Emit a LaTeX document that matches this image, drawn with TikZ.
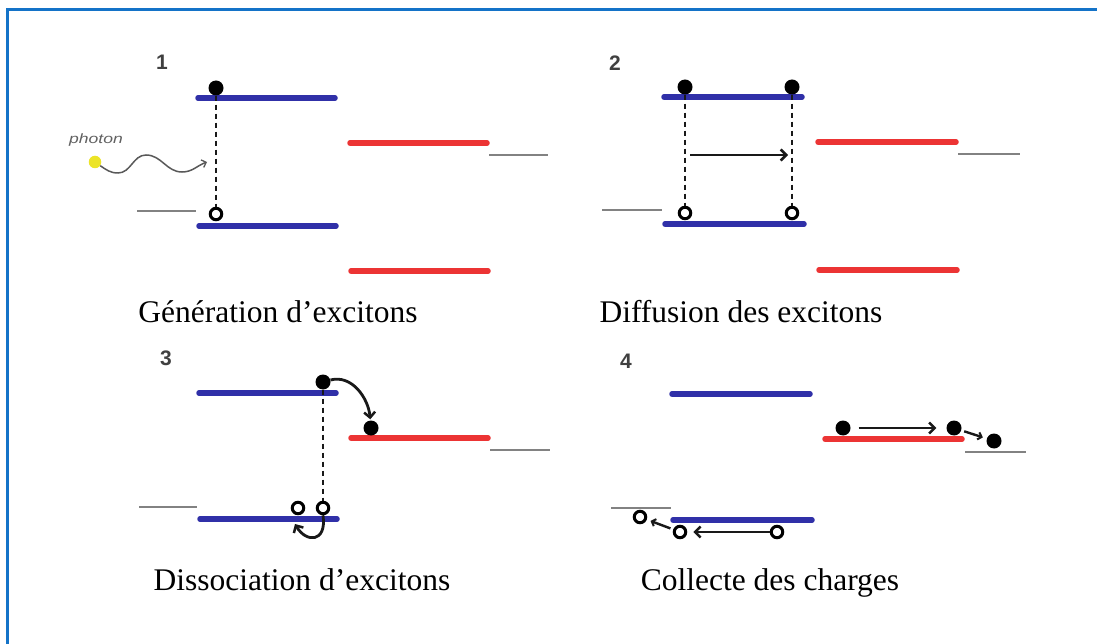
\documentclass[tikz,border=0pt]{standalone}
\usepackage{fontspec}
\setmainfont{Liberation Serif}
\newfontfamily\numfont{Liberation Sans}
\usetikzlibrary{arrows.meta}

\definecolor{framec}{RGB}{20,115,200}
\definecolor{lvblue}{RGB}{48,48,168}
\definecolor{lvred}{RGB}{236,52,52}
\definecolor{lvgray}{RGB}{130,130,130}
\definecolor{phyellow}{RGB}{236,228,40}
\definecolor{inkc}{RGB}{25,25,25}

\tikzset{
  elec/.style={circle, fill=black, inner sep=0pt, minimum size=15pt},
  hole/.style={circle, draw=black, fill=white, line width=3pt, inner sep=0pt, minimum size=11.5pt},
  lvd/.style={lvblue, line width=5.5pt, line cap=round},
  lva/.style={lvred, line width=5.5pt, line cap=round},
  lvm/.style={lvgray, line width=2.4pt},
  tie/.style={inkc, line width=1.4pt, dash pattern=on 5pt off 4pt},
  move/.style={inkc, line width=2.8pt, -{Straight Barb[length=5.5pt,width=11pt,line width=2.5pt]}},
  hop/.style={inkc, line width=2.4pt, -{Straight Barb[length=3.5pt,width=7.5pt,line width=2pt]}},
  wave/.style={black!65, line width=1.5pt, -{Straight Barb[length=4pt,width=8pt,line width=1.3pt]}},
  caption/.style={font=\fontsize{31.5}{36}\selectfont, anchor=base, inner sep=0pt},
  stage/.style={font=\numfont\bfseries\fontsize{21}{21}\selectfont, text=black!75, inner sep=0pt},
}

\begin{document}
\begin{tikzpicture}[x=1pt, y=1pt]
\useasboundingbox (0,0) rectangle (1097,-644);
\fill[white] (0,0) rectangle (1097,-644);
% frame
\draw[framec, line width=3pt] (7.5,-660) -- (7.5,-10) -- (1110,-10);

% ---------- 1: generation ----------
\node[stage] (n1) at (162,-62) {1};
\draw[lvd] (198,-98) -- (335,-98);
\draw[lvd] (199,-226) -- (336,-226);
\draw[lva] (350,-143) -- (487,-143);
\draw[lva] (351,-271) -- (488,-271);
\draw[lvm] (137,-211) -- (196,-211);
\draw[lvm] (489,-155) -- (548,-155);
\node[elec] (e1) at (216,-88) {};
\node[hole] (h1) at (216,-214) {};
\draw[tie] (e1) -- (h1);
\node[font=\numfont\itshape\fontsize{13.5}{13.5}\selectfont, text=black!62, inner sep=0pt] (phl) at (96,-140) {\scalebox{1.3}[1]{photon}};
\node[circle, fill=phyellow, inner sep=0pt, minimum size=12.5pt] (ph) at (95,-162) {};
\coordinate (phend) at (207,-162);
\draw[wave] (ph.-35) to[out=-35,in=180] (118,-173) to[out=0,in=180] (146,-155)
  to[out=0,in=180] (182,-172) to[out=0,in=200] (phend);
\node[caption] (c1) at (278,-322) {Génération d’excitons};

% ---------- 2: diffusion ----------
\node[stage] (n2) at (615,-63) {2};
\draw[lvd] (664,-97) -- (802,-97);
\draw[lvd] (665,-224) -- (804,-224);
\draw[lva] (818,-142) -- (956,-142);
\draw[lva] (819,-270) -- (957,-270);
\draw[lvm] (602,-210) -- (662,-210);
\draw[lvm] (958,-154) -- (1020,-154);
\node[elec] (e2a) at (685,-87) {};
\node[elec] (e2b) at (792,-87) {};
\node[hole] (h2a) at (685,-213) {};
\node[hole] (h2b) at (792,-213) {};
\draw[tie] (e2a) -- (h2a);
\draw[tie] (e2b) -- (h2b);
\coordinate (d2a) at (690,-155);
\coordinate (d2b) at (788,-155);
\draw[move] (d2a) -- (d2b);
\node[caption] (c2) at (741,-322) {Diffusion des excitons};

% ---------- 3: dissociation ----------
\node[stage] (n3) at (166,-358) {3};
\draw[lvd] (199,-393) -- (336,-393);
\draw[lvd] (200,-519) -- (337,-519);
\draw[lva] (351,-438) -- (488,-438);
\draw[lvm] (139,-507) -- (197,-507);
\draw[lvm] (490,-450) -- (550,-450);
\node[elec] (e3a) at (323,-382) {};
\node[elec] (e3b) at (371,-428) {};
\node[hole] (h3a) at (298,-508) {};
\node[hole] (h3b) at (323,-508) {};
\draw[tie] (e3a) -- (h3b);
\draw[move, shorten >=1pt] (e3a) to[out=15,in=95] (e3b);
\coordinate (h3tip) at (295,-524);
\draw[move] (h3b.south) .. controls (327,-543) and (306,-543) .. (h3tip);
\node[caption] (c3) at (302,-590) {Dissociation d’excitons};

% ---------- 4: collection ----------
\node[stage] (n4) at (626,-361) {4};
\draw[lvd] (672,-394) -- (810,-394);
\draw[lvd] (673,-520) -- (812,-520);
\draw[lva] (825,-439) -- (962,-439);
\draw[lvm] (611,-508) -- (671,-508);
\draw[lvm] (965,-452) -- (1026,-452);
\node[elec] (e4a) at (843,-428) {};
\node[elec] (e4b) at (954,-428) {};
\node[elec] (e4c) at (994,-441) {};
\node[hole] (h4a) at (640,-517) {};
\node[hole] (h4b) at (680,-532) {};
\node[hole] (h4c) at (777,-532) {};
\draw[move, shorten <=8pt, shorten >=10pt] (e4a) -- (e4b);
\draw[hop, shorten <=3pt, shorten >=4pt] (e4b) -- (e4c);
\draw[move, shorten >=6pt] (h4c) -- (h4b);
\draw[hop, shorten <=3pt, shorten >=4pt] (h4b) -- (h4a);
\node[caption] (c4) at (770,-590) {Collecte des charges};
\end{tikzpicture}
\end{document}
